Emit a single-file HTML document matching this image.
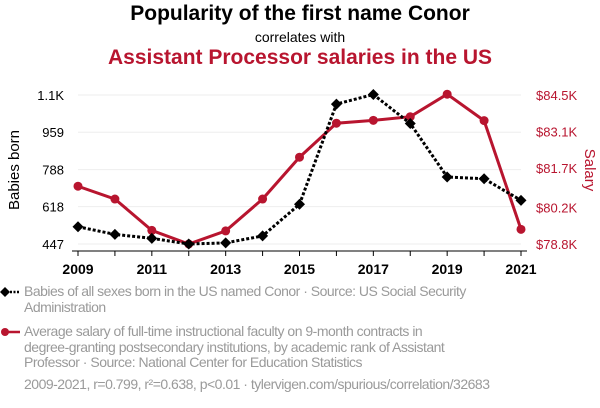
<!DOCTYPE html>
<html><head><meta charset="utf-8"><style>
body{margin:0;background:#fff;width:600px;height:408px;overflow:hidden;font-family:"Liberation Sans",sans-serif}
.leg{position:absolute;left:24px;width:445px;color:#9a9a9a;font-size:14px;line-height:15.5px;letter-spacing:-0.5px}
</style></head><body>
<div style="position:absolute;top:2px;width:600px;text-align:center;font-size:21px;font-weight:bold;color:#000">Popularity of the first name Conor</div>
<div style="position:absolute;top:29px;width:600px;text-align:center;font-size:14px;color:#000">correlates with</div>
<div style="position:absolute;top:46px;width:600px;text-align:center;font-size:21px;font-weight:bold;color:#b8152f">Assistant Processor salaries in the US</div>
<svg id="c" width="600" height="285" style="position:absolute;top:0;left:0"></svg>
<div class="leg" style="top:284px">Babies of all sexes born in the US named Conor · Source: US Social Security Administration</div>
<div class="leg" style="top:324px">Average salary of full-time instructional faculty on 9-month contracts in degree-granting postsecondary institutions, by academic rank of Assistant Professor · Source: National Center for Education Statistics</div>
<div class="leg" style="top:377px;width:560px">2009-2021, r=0.799, r²=0.638, p&lt;0.01 · tylervigen.com/spurious/correlation/32683</div>
<svg width="24" height="120" style="position:absolute;left:0;top:283px">
<line x1="3" y1="9" x2="20" y2="9" stroke="#000" stroke-width="2.5" stroke-dasharray="2,1.5"/><path d="M5 4L10 9L5 14L0 9Z" fill="#000"/>
<line x1="3" y1="49" x2="20" y2="49" stroke="#b8152f" stroke-width="2.5"/><circle cx="5" cy="49" r="4" fill="#b8152f"/>
</svg>
<script>
const years=[2009,2010,2011,2012,2013,2014,2015,2016,2017,2018,2019,2020,2021];
const babies=[526,491,473,447,452,484,629,1088,1132,999,754,746,647];
const salary=[81.01,80.52,79.32,78.8,79.30,80.52,82.12,83.42,83.53,83.67,84.53,83.52,79.36];
const leftTicks=[447,618,788,959,1129.6];
const leftLabels=["447","618","788","959","1.1K"];
const rightTicks=[78.8,80.2,81.7,83.1,84.5];
const rightLabels=["$78.8K","$80.2K","$81.7K","$83.1K","$84.5K"];
const xTickYears=[2009,2011,2013,2015,2017,2019,2021];
const NS="http://www.w3.org/2000/svg",svg=document.getElementById('c');
const x=y=>78+(y-2009)*(521-78)/12;
const yL=v=>244-(v-447)*(244-95)/(1129.6-447);
const yR=v=>244-(v-78.8)*(244-95)/(84.5-78.8);
function el(t,a,p){const e=document.createElementNS(NS,t);for(const k in a)e.setAttribute(k,a[k]);(p||svg).appendChild(e);return e;}
leftTicks.forEach((t,i)=>{
 const g=el('line',{x1:78,x2:521,y1:yL(t),y2:yL(t),stroke:'#eee','stroke-width':1});
 
 const l=el('text',{x:64,y:yL(t)+5,'text-anchor':'end','font-size':13,fill:'#000'});l.textContent=leftLabels[i];
 
});
rightTicks.forEach((t,i)=>{
 const l=el('text',{x:536,y:yR(t)+5,'font-size':13,fill:'#b8152f'});l.textContent=rightLabels[i];
 
});
el('line',{x1:72,x2:527,y1:251,y2:251,stroke:'#000','stroke-width':1});
years.forEach(y=>el('line',{x1:x(y),x2:x(y),y1:251,y2:256,stroke:'#000'}));
xTickYears.forEach(y=>{const l=el('text',{x:x(y),y:274,'text-anchor':'middle','font-size':14,'font-weight':'bold',fill:'#000'});l.textContent=y;
 });
let t=el('text',{transform:'translate(19,170) rotate(-90)','text-anchor':'middle','font-size':15,fill:'#000'});t.textContent='Babies born';

t=el('text',{transform:'translate(585,170) rotate(90)','text-anchor':'middle','font-size':15,fill:'#b8152f'});t.textContent='Salary';

const rp=el('polyline',{points:years.map((y,i)=>x(y)+','+yR(salary[i])).join(' '),fill:'none',stroke:'#b8152f','stroke-width':3});

years.forEach((y,i)=>{const c=el('circle',{cx:x(y),cy:yR(salary[i]),r:4.5,fill:'#b8152f'});
 });
const bp=el('polyline',{points:years.map((y,i)=>x(y)+','+yL(babies[i])).join(' '),fill:'none',stroke:'#000','stroke-width':3,'stroke-dasharray':'3,2'});

years.forEach((y,i)=>{const cx=x(y),cy=yL(babies[i]);const d=el('path',{d:`M${cx} ${cy-5.5}L${cx+5.5} ${cy}L${cx} ${cy+5.5}L${cx-5.5} ${cy}Z`,fill:'#000'});
 });
</script>
</body></html>
